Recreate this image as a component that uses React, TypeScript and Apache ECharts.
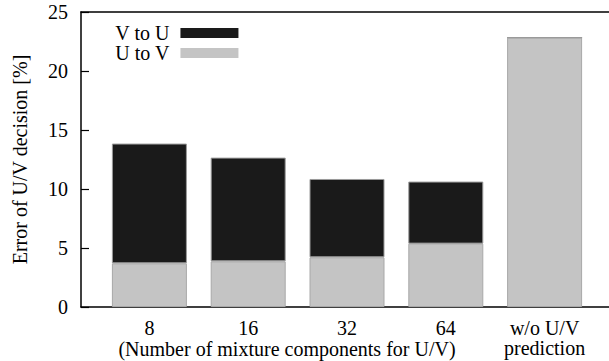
import React, { useEffect, useRef } from "react";
import * as echarts from "echarts";

const categories = ["8", "16", "32", "64", "w/o U/V\nprediction"];
const uToV = [3.7, 3.87, 4.21, 5.37, 22.83];
const vToU = [10.15, 8.79, 6.64, 5.26, 0];
const yTicks = [0, 5, 10, 15, 20, 25];
const xTitle = "(Number of mixture components for U/V)";
const yTitle = "Error of U/V decision [%]";

const FONT = "serif";

export default function App() {
  const ref = useRef<HTMLDivElement>(null);
  useEffect(() => {
    if (!ref.current) return;
    const chart = echarts.init(ref.current, undefined, { renderer: "svg" });
    const frameLine = { show: true, lineStyle: { color: "#000", width: 1.5 } };
    chart.setOption({
      animation: false,
      textStyle: { fontFamily: FONT, color: "#000" },
      legend: {
        orient: "vertical",
        left: 110,
        top: 18,
        align: "right",
        itemWidth: 58,
        itemHeight: 10,
        itemGap: 0,
        icon: "rect",
        itemStyle: { borderWidth: 0 },
        data: ["V to U", "U to V"],
        textStyle: {
          fontFamily: FONT,
          fontSize: 20,
          color: "#000",
          lineHeight: 20,
          padding: [0, 6, 0, 0],
        },
      },
      grid: [
        { left: 100, right: 15, top: 12, bottom: 54, containLabel: false },
        { left: 81, right: 0, top: 12, bottom: 54, containLabel: false },
      ],
      xAxis: [
        {
          type: "category",
          gridIndex: 0,
          data: categories,
          axisLine: { show: false },
          axisTick: { show: false },
          axisLabel: {
            interval: 0,
            fontFamily: FONT,
            fontSize: 20,
            color: "#000",
            lineHeight: 20,
            margin: 11,
          },
        },
        {
          type: "value",
          gridIndex: 1,
          min: 0,
          max: 1,
          splitLine: { show: false },
          axisLine: frameLine,
          axisTick: { show: false },
          axisLabel: { show: false },
        },
        {
          type: "value",
          gridIndex: 1,
          position: "top",
          min: 0,
          max: 1,
          splitLine: { show: false },
          axisLine: frameLine,
          axisTick: { show: false },
          axisLabel: { show: false },
        },
      ],
      yAxis: [
        {
          type: "value",
          gridIndex: 0,
          offset: 19,
          min: yTicks[0],
          max: yTicks[yTicks.length - 1],
          interval: 5,
          name: yTitle,
          nameLocation: "middle",
          nameGap: 51,
          nameTextStyle: { fontFamily: FONT, fontSize: 20, color: "#000" },
          splitLine: { show: false },
          axisLine: { show: true, onZero: false, lineStyle: { color: "#000", width: 1.5 } },
          axisTick: { show: true, inside: true, length: 8, lineStyle: { color: "#000", width: 1.2 } },
          axisLabel: { fontFamily: FONT, fontSize: 20, color: "#000", margin: 13 },
        },
        {
          type: "value",
          gridIndex: 1,
          min: 0,
          max: 1,
          show: false,
        },
      ],
      graphic: [
        {
          type: "text",
          x: 287,
          y: 349,
          style: {
            text: xTitle,
            fontFamily: FONT,
            fontSize: 20,
            fill: "#000",
            align: "center",
            verticalAlign: "middle",
          },
        },
      ],
      series: [
        {
          name: "U to V",
          type: "bar",
          stack: "total",
          barWidth: 75,
          xAxisIndex: 0,
          yAxisIndex: 0,
          itemStyle: { color: "#c4c4c4", borderColor: "#a8a8a8", borderWidth: 1 },
          data: uToV,
        },
        {
          name: "V to U",
          type: "bar",
          stack: "total",
          barWidth: 75,
          xAxisIndex: 0,
          yAxisIndex: 0,
          itemStyle: { color: "#1a1a1a", borderColor: "#9a9a9a", borderWidth: 1 },
          data: vToU,
        },
      ],
    });
    return () => chart.dispose();
  }, []);
  return <div ref={ref} style={{ width: 609, height: 361, position: "absolute", left: 0, top: 0 }} />;
}
